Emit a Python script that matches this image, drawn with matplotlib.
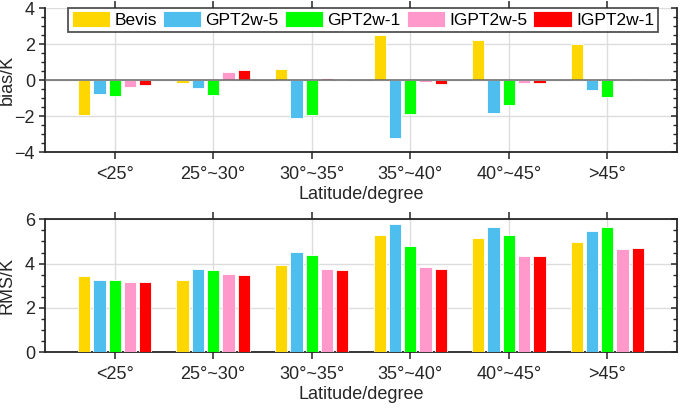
import matplotlib
matplotlib.use("Agg")
import matplotlib.pyplot as plt
import numpy as np
from matplotlib.ticker import MultipleLocator

plt.rcParams['font.family'] = ['Liberation Sans', 'DejaVu Sans']

categories = ['<25°', '25°~30°', '30°~35°', '35°~40°', '40°~45°', '>45°']
series = ['Bevis', 'GPT2w-5', 'GPT2w-1', 'IGPT2w-5', 'IGPT2w-1']
colors = ['#FFD700', '#4DBEEE', '#00FF00', '#FF99CC', '#FF0000']

bias_bevis = [-1.91, -0.13, 0.62, 2.53, 2.24, 2.00]
bias_gpt5 = [-0.77, -0.41, -2.07, -3.18, -1.81, -0.52]
bias_gpt1 = [-0.88, -0.82, -1.94, -1.85, -1.36, -0.93]
bias_igpt5 = [-0.37, 0.47, 0.13, -0.10, -0.15, 0.07]
bias_igpt1 = [-0.24, 0.56, 0.03, -0.22, -0.13, 0.06]

rms_bevis = [3.44, 3.25, 3.95, 5.28, 5.17, 4.96]
rms_gpt5 = [3.28, 3.77, 4.51, 5.79, 5.67, 5.49]
rms_gpt1 = [3.25, 3.70, 4.39, 4.78, 5.31, 5.64]
rms_igpt5 = [3.17, 3.52, 3.76, 3.83, 4.35, 4.68]
rms_igpt1 = [3.17, 3.49, 3.70, 3.77, 4.35, 4.71]

bias = [bias_bevis, bias_gpt5, bias_gpt1, bias_igpt5, bias_igpt1]
rms = [rms_bevis, rms_gpt5, rms_gpt1, rms_igpt5, rms_igpt1]

fig = plt.figure(figsize=(6.85, 4.08), dpi=100)
L, W = 45/685, (677-45)/685
ax1 = fig.add_axes([L, 1-152.3/408, W, (152.3-8.5)/408])
ax2 = fig.add_axes([L, 1-352.3/408, W, (352.3-219.3)/408])

x = np.arange(1, len(categories)+1)
step = 0.155
width = 0.125
fs = 13
spc = '#262626'

handles = []
for ax, data, ylim, ylab, yt in [(ax1, bias, (-4, 4), 'bias/K', [-4, -2, 0, 2, 4]),
                                 (ax2, rms, (0, 6), 'RMS/K', [0, 2, 4, 6])]:
    for i, (vals, c) in enumerate(zip(data, colors)):
        b = ax.bar(x + (i-2)*step, vals, width, color=c, edgecolor='white',
                   linewidth=0.6, zorder=3, label=series[i])
        if ax is ax1:
            handles.append(b)
    ax.set_xlim(0.293, 6.707)
    ax.set_ylim(*ylim)
    ax.set_yticks(yt)
    ax.yaxis.set_minor_locator(MultipleLocator(0.5))
    ax.set_xticks(x)
    ax.set_xticklabels(categories, fontsize=fs, color='#262626')
    ax.tick_params(axis='y', labelsize=fs, labelcolor='#262626')
    ax.set_xlabel('Latitude/degree', fontsize=fs, color='#262626', labelpad=2)
    ax.set_ylabel(ylab, fontsize=fs, color='#262626', labelpad=2)
    ax.grid(True, color='#DDDDDD', linewidth=1.0, zorder=0)
    ax.set_axisbelow(True)
    for s in ax.spines.values():
        s.set_color(spc)
        s.set_linewidth(1.3)
    ax.tick_params(axis='x', which='both', direction='out', top=True, length=4.8,
                   width=1.1, color=spc, pad=5)
    ax.tick_params(axis='y', which='major', direction='out', left=True, right=False,
                   length=4.2, width=1.1, color=spc, pad=3)
    ax.tick_params(axis='y', which='minor', direction='out', left=True, right=False,
                   length=3, width=1.0, color=spc)
    # inward ticks on the right side
    axr = ax.twinx()
    axr.set_ylim(*ylim)
    axr.set_yticks(yt)
    axr.yaxis.set_minor_locator(MultipleLocator(0.5))
    axr.tick_params(axis='y', which='major', direction='in', length=4.2, width=1.1,
                    color=spc, labelright=False)
    axr.tick_params(axis='y', which='minor', direction='in', length=3, width=1.0,
                    color=spc)
    for s in axr.spines.values():
        s.set_visible(False)

ax1.spines['top'].set_visible(False)
ax1.axhline(0, color='#666666', linewidth=1.1, zorder=4)
ax1.yaxis.set_label_coords(-0.046, 0.5)
ax2.yaxis.set_label_coords(-0.046, 0.5)

leg = ax1.legend(handles=handles, labels=series, loc='upper center',
                 bbox_to_anchor=(363/685, 1-7.5/408), bbox_transform=fig.transFigure,
                 ncol=5, fontsize=12.5, frameon=True, fancybox=False,
                 handlelength=2.2, handleheight=1.0, handletextpad=0.25,
                 columnspacing=0.35, borderpad=0.22, borderaxespad=0)
leg.get_frame().set_edgecolor('#262626')
leg.get_frame().set_linewidth(1.3)
leg.set_zorder(10)

fig.savefig('out.png', dpi=100)
